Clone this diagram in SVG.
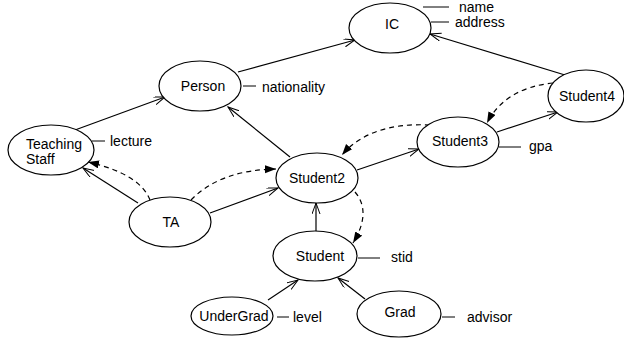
<svg xmlns="http://www.w3.org/2000/svg" width="624" height="346" viewBox="0 0 624 346">
  <style>
    .node { fill: #fff; stroke: #000; stroke-width: 1.2; }
    .lbl { font-family: "Liberation Sans", Arial, sans-serif; font-size: 14px; fill: #000; }
    .mid { text-anchor: middle; }
    .edge { fill: none; stroke: #000; stroke-width: 1.2; }
    .dash { fill: none; stroke: #000; stroke-width: 1.2; stroke-dasharray: 5 4; }
    .attr { stroke: #000; stroke-width: 1; }
  </style>
  <defs>
    <marker id="open" markerUnits="userSpaceOnUse" markerWidth="14" markerHeight="10" refX="11" refY="4" orient="auto">
      <path d="M0,0 L11,4 L0,8" fill="none" stroke="#000" stroke-width="1"/>
    </marker>
    <marker id="solid" markerUnits="userSpaceOnUse" markerWidth="14" markerHeight="10" refX="11" refY="4" orient="auto">
      <path d="M0,0 L11,4 L0,8 Z" fill="#000"/>
    </marker>
  </defs>

  <!-- connectors -->
  <g id="connectors">
    <line class="edge" x1="238" y1="72" x2="355" y2="40" marker-end="url(#open)"/>
    <line class="edge" x1="565" y1="75" x2="430" y2="34" marker-end="url(#open)"/>
    <line class="edge" x1="75" y1="130" x2="165" y2="97" marker-end="url(#open)"/>
    <line class="edge" x1="290" y1="157" x2="228" y2="107" marker-end="url(#open)"/>
    <line class="edge" x1="357" y1="170" x2="419" y2="149" marker-end="url(#open)"/>
    <line class="edge" x1="497" y1="132" x2="558" y2="112" marker-end="url(#open)"/>
    <line class="edge" x1="210" y1="213" x2="278" y2="188" marker-end="url(#open)"/>
    <line class="edge" x1="138" y1="203" x2="83" y2="168" marker-end="url(#open)"/>
    <line class="edge" x1="316" y1="231" x2="316" y2="203" marker-end="url(#open)"/>
    <line class="edge" x1="268" y1="300" x2="298" y2="280" marker-end="url(#open)"/>
    <line class="edge" x1="365" y1="299" x2="338" y2="278" marker-end="url(#open)"/>

    <path class="dash" d="M150,200 Q140,174 88,162" marker-end="url(#solid)"/>
    <path class="dash" d="M191,200 Q220,170 276,169" marker-end="url(#solid)"/>
    <path class="dash" d="M355,192 Q372,212 353,243" marker-end="url(#solid)"/>
    <path class="dash" d="M430,125 Q370,122 342,155" marker-end="url(#solid)"/>
    <path class="dash" d="M553,83 Q505,88 487,123" marker-end="url(#solid)"/>
  </g>

  <g id="IC">
    <ellipse class="node" cx="390" cy="28" rx="41" ry="25"/>
    <text class="lbl mid" x="392" y="29">IC</text>
    <line class="attr" x1="423" y1="7" x2="449" y2="7"/>
    <text class="lbl" x="459" y="12">name</text>
    <line class="attr" x1="431" y1="22" x2="449" y2="22"/>
    <text class="lbl" x="455" y="27">address</text>
  </g>

  <g id="Person">
    <ellipse class="node" cx="200" cy="86" rx="41" ry="25"/>
    <text class="lbl mid" x="203" y="91">Person</text>
    <line class="attr" x1="243" y1="86" x2="256" y2="86"/>
    <text class="lbl" x="262" y="92">nationality</text>
  </g>

  <g id="TeachingStaff">
    <ellipse class="node" cx="51" cy="150" rx="43" ry="25"/>
    <text class="lbl" x="26" y="149">Teaching</text>
    <text class="lbl" x="26" y="164">Staff</text>
    <line class="attr" x1="92" y1="141" x2="105" y2="141"/>
    <text class="lbl" x="110" y="146">lecture</text>
  </g>

  <g id="Student2">
    <ellipse class="node" cx="317" cy="178" rx="41" ry="25"/>
    <text class="lbl mid" x="317" y="183">Student2</text>
  </g>

  <g id="Student3">
    <ellipse class="node" cx="458" cy="142" rx="41" ry="25"/>
    <text class="lbl mid" x="460" y="146">Student3</text>
    <line class="attr" x1="499" y1="147" x2="521" y2="147"/>
    <text class="lbl" x="529" y="151">gpa</text>
  </g>

  <g id="Student4">
    <ellipse class="node" cx="586" cy="96" rx="38" ry="26"/>
    <text class="lbl mid" x="587" y="101">Student4</text>
  </g>

  <g id="TA">
    <ellipse class="node" cx="170" cy="222" rx="41" ry="25"/>
    <text class="lbl mid" x="171" y="227">TA</text>
  </g>

  <g id="Student">
    <ellipse class="node" cx="315" cy="256" rx="42" ry="25"/>
    <text class="lbl mid" x="320" y="261">Student</text>
    <line class="attr" x1="358" y1="258" x2="380" y2="258"/>
    <text class="lbl" x="391" y="262">stid</text>
  </g>

  <g id="UnderGrad">
    <ellipse class="node" cx="232" cy="316" rx="41" ry="19"/>
    <text class="lbl mid" x="234" y="321">UnderGrad</text>
    <line class="attr" x1="277" y1="317" x2="289" y2="317"/>
    <text class="lbl" x="293" y="322">level</text>
  </g>

  <g id="Grad">
    <ellipse class="node" cx="399" cy="314" rx="42" ry="23"/>
    <text class="lbl mid" x="400" y="317">Grad</text>
    <line class="attr" x1="442" y1="317" x2="455" y2="317"/>
    <text class="lbl" x="467" y="322">advisor</text>
  </g>
</svg>
